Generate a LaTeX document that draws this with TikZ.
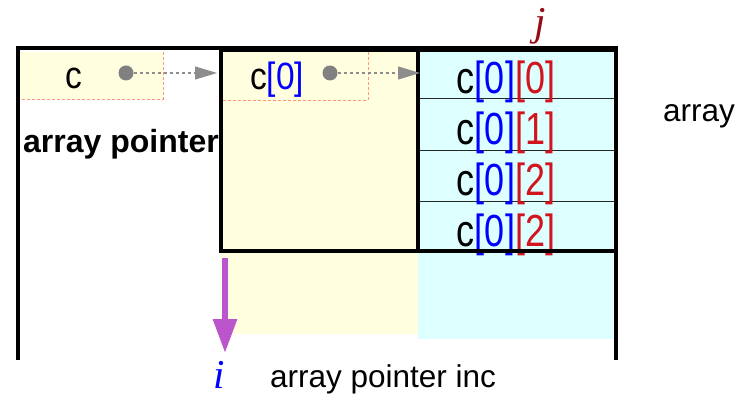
\documentclass[tikz,border=0pt]{standalone}
\usepackage{fontspec}
\setmainfont{Liberation Sans}
\newfontfamily\cellfont[FakeStretch=0.8]{Liberation Sans}
\newfontfamily\ptrfont[FakeStretch=0.88]{Liberation Sans}
\newfontfamily\ijfont{Liberation Serif}
\usetikzlibrary{arrows.meta}
\definecolor{cellyellow}{RGB}{255,254,222}
\definecolor{cellcyan}{RGB}{222,255,255}
\definecolor{salmonline}{RGB}{255,150,120}
\definecolor{ptrgray}{RGB}{128,128,128}
\definecolor{idxblue}{RGB}{0,0,255}
\definecolor{idxred}{RGB}{210,20,30}
\definecolor{jred}{RGB}{150,10,20}
\definecolor{incpurple}{RGB}{187,85,204}
\newcommand\cellidx[2]{c\textcolor{idxblue}{[#1]}\textcolor{idxred}{[#2]}}
\begin{document}
\begin{tikzpicture}[x=1pt,y=-1pt,
  thickline/.style={line width=4pt,draw=black},
  salmondash/.style={draw=salmonline,line width=0.9pt,dash pattern=on 3pt off 2pt},
  rowline/.style={draw=black!85,line width=1pt},
  ptrdot/.style={circle,fill=ptrgray,inner sep=0pt,minimum size=15pt},
  ptrarrow/.style={draw=ptrgray!90,line width=1.1pt,dash pattern=on 3pt off 3pt,-{Triangle[length=22pt,width=13pt]}},
  incarrow/.style={draw=incpurple,line width=6pt,-{Triangle[length=34pt,width=23pt]}},
  txt/.style={inner sep=0pt,anchor=base},
  cellstyle/.style={txt,font=\cellfont\fontsize{45}{50}\selectfont},
  ptrstyle/.style={txt,font=\ptrfont\fontsize{38}{44}\selectfont},
  labelstyle/.style={inner sep=0pt,anchor=base west,font=\fontsize{31.5}{36}\selectfont},
  ijstyle/.style={txt,font=\ijfont\itshape\fontsize{41}{46}\selectfont}
]
\useasboundingbox (0,0) rectangle (738,395);
% fills
\fill[cellcyan] (418,52) rectangle (613,339);
\fill[cellyellow] (221,52) rectangle (418,334);
\fill[cellyellow] (18,52) rectangle (163,99);
% dashed cell borders
\draw[salmondash] (163,52) -- (163,99) -- (18,99);
\draw[salmondash] (368,52) -- (368,100) -- (221,100);
% row lines
\draw[rowline] (418,99) -- (616,99);
\draw[rowline] (418,151) -- (616,151);
\draw[rowline] (418,202) -- (616,202);
% texts
\node[ptrstyle] (cptr) at (74,89) {c};
\node[ptrstyle] (c0) at (277,90) {c\textcolor{idxblue}{[0]}};
\node[cellstyle] (c00) at (506,94) {\cellidx{0}{0}};
\node[cellstyle] (c01) at (506,145) {\cellidx{0}{1}};
\node[cellstyle] (c02) at (506,196) {\cellidx{0}{2}};
\node[cellstyle] (c03) at (506,247) {\cellidx{0}{2}};
\node[labelstyle,font=\bfseries\fontsize{32}{36}\selectfont] (ap) at (23,153) {array pointer};
\node[labelstyle] (arr) at (663,122) {array};
\node[labelstyle] (api) at (270,387) {array pointer inc};
\node[ijstyle,text=jred] (j) at (540,36) {j};
\node[ijstyle,text=idxblue] (i) at (219,388) {i};
% thick lines
\draw[thickline] (18,360) -- (18,48) -- (616,48) -- (616,360);
\draw[thickline] (221,50) rectangle (616,251);
\draw[thickline] (418,50) -- (418,251);
% pointers
\node[ptrdot] (d1) at (126,73) {};
\node[ptrdot] (d2) at (330,73) {};
\coordinate (t1) at (217,73);
\coordinate (t2) at (420,73);
\draw[ptrarrow] (d1.east) -- (t1);
\draw[ptrarrow] (d2.east) -- (t2);
% increment arrow
\coordinate (is) at (225,258);
\coordinate (ie) at (225,353);
\draw[incarrow] (is) -- (ie);
\end{tikzpicture}
\end{document}
